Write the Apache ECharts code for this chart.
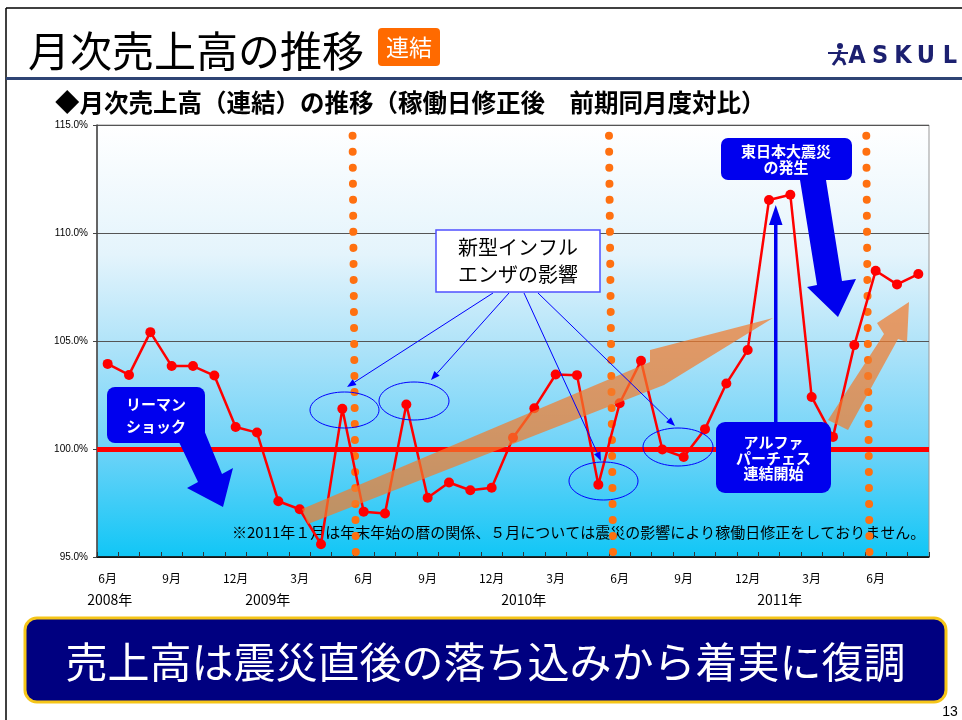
<!DOCTYPE html>
<html><head><meta charset="utf-8">
<script src="https://cdn.jsdelivr.net/npm/echarts@6/dist/echarts.min.js"></script>
<style>html,body{margin:0;padding:0;background:#fff}#c{width:962px;height:720px}</style>
</head><body><div id="c"></div>
<script>
// ---- data ----
const categories = ['6月','7月','8月','9月','10月','11月','12月','1月','2月','3月','4月','5月',
  '6月','7月','8月','9月','10月','11月','12月','1月','2月','3月','4月','5月',
  '6月','7月','8月','9月','10月','11月','12月','1月','2月','3月','4月','5月',
  '6月','7月','8月'];
const salesRatio = [103.94,103.43,105.41,103.84,103.84,103.40,101.02,100.76,97.58,97.21,95.59,101.86,
  97.10,97.01,102.06,97.74,98.45,98.09,98.21,100.52,101.89,103.45,103.42,98.35,
  102.12,104.08,99.98,99.63,100.92,103.03,104.58,111.53,111.77,102.41,100.56,104.81,
  108.25,107.62,108.10];
const yMin = 95, yMax = 115, yStep = 5;
const baseline = 100;
const yearLabels = ['2008年','2009年','2010年','2011年'];
const yearLabelPos = [0.1, 7.5, 19.5, 31.5];
const fiscalBreaks = [[11.48,11.63],[23.50,23.69],[35.56,35.71]];

const FONT = '"Noto Sans CJK JP", "Noto Sans", sans-serif';
const chart = echarts.init(document.getElementById('c'), null, {renderer:'canvas'});

const dotSeries = fiscalBreaks.map(b => ({
  type:'line', xAxisIndex:1, yAxisIndex:0, silent:true, symbol:'none', z:1,
  data:[[b[0],114.5],[b[1],95.2]],
  lineStyle:{color:'#ff7010', width:8, type:[0.01,16], cap:'round'}
}));

const option = {
  animation:false,
  textStyle:{fontFamily:FONT},
  grid:{left:97, right:33, top:125, bottom:163, show:true, borderColor:'#999', borderWidth:1,
    backgroundColor:new echarts.graphic.LinearGradient(0,0,0,1,[
      {offset:0,color:'#ffffff'},{offset:0.3,color:'#e4f4fc'},{offset:0.5,color:'#b2e4f9'},
      {offset:0.75,color:'#6ed3f8'},{offset:1,color:'#10c6f6'}])},
  xAxis:[{
    type:'category', data:categories, boundaryGap:true,
    axisLine:{lineStyle:{color:'#000', width:1.5}},
    axisTick:{show:true, inside:true, length:5, interval:0, lineStyle:{color:'#333'}},
    axisLabel:{interval:(i)=>i%3===0, color:'#000', fontSize:12, margin:15, fontFamily:FONT},
    splitLine:{show:false}
  },{
    type:'value', min:-0.5, max:38.5, show:false
  }],
  yAxis:{
    type:'value', min:yMin, max:yMax, interval:yStep,
    axisLine:{show:true, onZero:false, lineStyle:{color:'#444', width:1.5}},
    axisTick:{show:true, length:4, lineStyle:{color:'#444'}},
    axisLabel:{formatter:v=>v.toFixed(1)+'%', color:'#000', fontSize:10, margin:9, fontFamily:'"Liberation Sans", sans-serif'},
    splitLine:{show:true, lineStyle:{color:'#555', width:1}}
  },
  series:[
    ...dotSeries,
    {
      type:'line', data:salesRatio, z:3,
      symbol:'circle', symbolSize:10,
      lineStyle:{color:'#ff0000', width:2.5},
      itemStyle:{color:'#ff0000'},
      markLine:{silent:true, symbol:'none', z:2, label:{show:false},
        lineStyle:{color:'#ff0000', width:5, type:'solid'},
        data:[{yAxis:baseline}]}
    }
  ]
};
chart.setOption(option);

function txt(x,y,text,font,fill,z,align,lh){
  return {type:'text', z:z||20, style:{x:x,y:y,text:text,font:font,fill:fill||'#000',
    align:align||'center', verticalAlign:'middle', textAlign:align||'center', textVerticalAlign:'middle', lineHeight:lh}};
}
function poly(points,fill,z,opacity){
  return {type:'polygon', z:z||10, shape:{points:points}, style:{fill:fill, opacity:opacity==null?1:opacity}};
}
function thinArrow(x1,y1,x2,y2){
  const dx=x2-x1, dy=y2-y1, L=Math.hypot(dx,dy), ux=dx/L, uy=dy/L, nx=-uy, ny=ux;
  const bx=x2-9*ux, by=y2-9*uy;
  return [
    {type:'line', z:15, shape:{x1:x1,y1:y1,x2:bx,y2:by}, style:{stroke:'#0000ff', lineWidth:1}},
    poly([[x2,y2],[bx+3.5*nx,by+3.5*ny],[bx-3.5*nx,by-3.5*ny]],'#0000ff',15)
  ];
}
function ellipse(cx,cy,rx,ry){
  return {type:'ellipse', z:15, shape:{cx:cx,cy:cy,rx:rx,ry:ry}, style:{fill:null, stroke:'#0000ff', lineWidth:1}};
}

const g = [];
// frame
g.push({type:'line', z:30, shape:{x1:6,y1:8,x2:962,y2:8}, style:{stroke:'#000', lineWidth:1.5}});
g.push({type:'line', z:30, shape:{x1:6,y1:8,x2:6,y2:720}, style:{stroke:'#000', lineWidth:1.5}});
g.push({type:'line', z:30, shape:{x1:6,y1:78.5,x2:962,y2:78.5}, style:{stroke:'#2e4474', lineWidth:3}});
// title
g.push(txt(28,51,'月次売上高の推移','42px '+FONT,'#000',30,'left'));
g.push({type:'rect', z:30, shape:{x:378,y:28,width:62,height:38,r:4}, style:{fill:'#ff6a00'}});
g.push(txt(409,47,'連結','23px '+FONT,'#fff',31));
// ASKUL logo
const logoL = ['A','S','K','U','L'], logoX=[857,880,903,926,950];
logoL.forEach((c,i)=>g.push(txt(logoX[i],56,c,'bold 25px "DejaVu Sans Condensed", "DejaVu Sans", sans-serif','#1c2070',30)));
g.push({type:'circle', z:30, shape:{cx:840,cy:46,r:3}, style:{fill:'#1c2070'}});
g.push({type:'polyline', z:30, shape:{points:[[840,50],[838,58],[833,65]]}, style:{stroke:'#1c2070', lineWidth:3, fill:null}});
g.push({type:'polyline', z:30, shape:{points:[[838,58],[843,60],[845,65]]}, style:{stroke:'#1c2070', lineWidth:3, fill:null}});
g.push({type:'line', z:30, shape:{x1:828,y1:53,x2:848,y2:53}, style:{stroke:'#1c2070', lineWidth:2}});
// subtitle
g.push(txt(55,103,'◆月次売上高（連結）の推移（稼働日修正後　前期同月度対比）','bold 24.5px '+FONT,'#000',30,'left'));
// note
g.push(txt(232,532,'※2011年１月は年末年始の暦の関係、５月については震災の影響により稼働日修正をしておりません。','15px '+FONT,'#000',1,'left'));
// orange trend arrows
g.push(poly([[302,509],[650,362],[650,350],[773,318],[664,385],[308,524]],'#f27c2c',12,0.72));
g.push(poly([[828,420],[884,334],[877,323],[909,302],[907,342],[898,339],[848,430]],'#f27c2c',12,0.72));
// Lehman
g.push(poly([[178,440],[204,430],[222,474],[233,468],[223,507],[187,488],[198,482]],'#0000ee',18));
g.push({type:'rect', z:19, shape:{x:107,y:387,width:98,height:56,r:8}, style:{fill:'#0000ee'}});
g.push(txt(156,415,'リーマン\nショック','bold 15px '+FONT,'#fff',20,'center',22));
// influenza
g.push({type:'rect', z:19, shape:{x:436,y:230,width:164,height:62}, style:{fill:'#fff', stroke:'#5050ff', lineWidth:1.5}});
g.push(txt(518,261,'新型インフル\nエンザの影響','20px '+FONT,'#000',20,'center',27));
[[493,293,347,387],[509,293,431,380],[524,293,601,461],[538,293,675,426]].forEach(a=>g.push(...thinArrow(...a)));
g.push(ellipse(344.5,410,34.5,18));
g.push(ellipse(414,401,35,19));
g.push(ellipse(603.5,481,34.5,19));
g.push(ellipse(678,447,35,19));
// earthquake
g.push(poly([[800,180],[826,180],[842,281],[856,279],[838,317],[807,287],[817,285]],'#0000ee',18));
g.push({type:'rect', z:19, shape:{x:721,y:138,width:131,height:42,r:7}, style:{fill:'#0000ee'}});
g.push(txt(786,159,'東日本大震災\nの発生','bold 15px '+FONT,'#fff',20,'center',16));
// Alpha purchase
g.push({type:'rect', z:18, shape:{x:774,y:220,width:3.5,height:205}, style:{fill:'#0000ee'}});
g.push(poly([[775.75,205],[769,225],[782.5,225]],'#0000ee',18));
g.push({type:'rect', z:19, shape:{x:716,y:422,width:115,height:71,r:9}, style:{fill:'#0000ee'}});
g.push(txt(773.5,458,'アルファ\nパーチェス\n連結開始','bold 15px '+FONT,'#fff',20,'center',15.5));
// banner
g.push({type:'rect', z:30, shape:{x:25,y:618,width:921,height:84,r:12}, style:{fill:'#000080', stroke:'#f5c518', lineWidth:3}});
g.push(txt(485.5,662,'売上高は震災直後の落ち込みから着実に復調','42px '+FONT,'#fff',31));
g.push(txt(950,712,'13','14px "Liberation Sans", sans-serif','#000',30));
// year labels
yearLabels.forEach((t,i)=>{
  const px = chart.convertToPixel({xAxisIndex:1}, yearLabelPos[i]);
  g.push(txt(px,600,t,'14px '+FONT,'#000',30));
});
chart.setOption({graphic:{elements:g}});
</script></body></html>
